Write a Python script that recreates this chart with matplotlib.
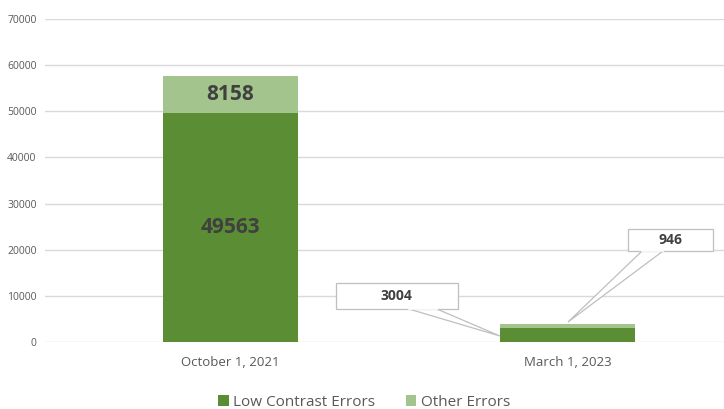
import numpy as np
import matplotlib.pyplot as plt
from matplotlib.patches import Polygon

dates = ['October 1, 2021', 'March 1, 2023']
low_contrast = [49563, 3004]
other = [8158, 946]

dark_green = '#5b8d35'
light_green = '#a3c48c'
txt_grey = '#595959'

plt.rcParams['font.family'] = ['Open Sans', 'DejaVu Sans']

fig = plt.figure(figsize=(7.24, 4.09), dpi=100)
ax = fig.add_axes([45 / 724, 1 - 342 / 409, 1 - 45 / 724, (342 - 19) / 409])

x = np.arange(len(dates))
w = 0.4
ax.bar(x, low_contrast, w, color=dark_green, label='Low Contrast Errors', zorder=3)
ax.bar(x, other, w, bottom=low_contrast, color=light_green, label='Other Errors', zorder=3)

ax.set_xlim(-0.549, 1.464)
ax.set_ylim(0, 70000)
ax.set_yticks(np.arange(0, 70001, 10000))
ax.yaxis.grid(True, color='#d9d9d9', linewidth=1, zorder=0)
for s in ax.spines.values():
    s.set_visible(False)
ax.tick_params(length=0, colors=txt_grey)
ax.tick_params(axis='y', pad=6, labelsize=7.5)
ax.tick_params(axis='x', pad=10, labelsize=9.5)
ax.set_xticks(x)
ax.set_xticklabels(dates)

# labels inside first bar
ax.text(0, low_contrast[0] / 2, str(low_contrast[0]), ha='center', va='center',
        fontsize=15, fontweight='bold', color='#404040', zorder=4)
ax.text(0, low_contrast[0] + other[0] / 2, str(other[0]), ha='center', va='center',
        fontsize=15, fontweight='bold', color='#404040', zorder=4)


def px2data(px, py):
    return ((px - 62) / 337 - 0.5, (342 - py) / 46.14 * 10000)


def callout(label, box, wedge_a, wedge_b, tip):
    x0, y0 = px2data(box[0], box[1])
    x1, y1 = px2data(box[2], box[3])
    a = px2data(*wedge_a)
    b = px2data(*wedge_b)
    t = px2data(*tip)
    ax.add_patch(Polygon([a, t, b], closed=True, facecolor='white',
                         edgecolor='#bfbfbf', linewidth=0.9, zorder=5))
    ax.add_patch(Polygon([(x0, y0), (x1, y0), (x1, y1), (x0, y1)], closed=True,
                         facecolor='white', edgecolor='#bfbfbf', linewidth=0.9, zorder=6))
    ax.plot([a[0], b[0]], [a[1], a[1]], color='white', linewidth=1.2, zorder=7)
    ax.text((x0 + x1) / 2, (y0 + y1) / 2, label, ha='center', va='center',
            fontsize=10, fontweight='bold', color='#404040', zorder=8)


callout(str(low_contrast[1]), (336, 283, 458, 309), (409, 309), (437, 309), (500, 336))
callout(str(other[1]), (628, 229, 713, 251), (642, 251), (663, 251), (568, 322))

ax.legend(loc='upper center', bbox_to_anchor=(0.47, -0.12), ncol=2, frameon=False,
          fontsize=11, handlelength=0.7, handleheight=0.7, handletextpad=0.3,
          columnspacing=2.0, labelcolor=txt_grey)

fig.savefig('out.png', dpi=100)
